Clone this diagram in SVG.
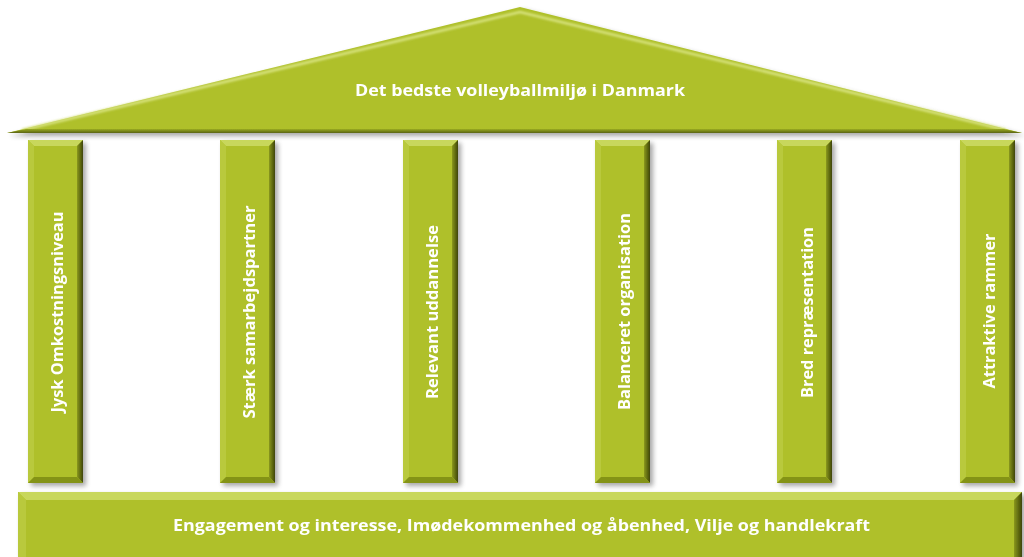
<svg xmlns="http://www.w3.org/2000/svg" xmlns:xlink="http://www.w3.org/1999/xlink" width="1024" height="557" viewBox="0 0 1024 557">
  <style>
    .lbl { font-family: "Open Sans", "Liberation Sans", Arial, sans-serif; font-weight: bold; font-size: 16.5px; fill: #ffffff; }
  </style>
  <defs>
    <filter id="shadow" x="-20%" y="-20%" width="140%" height="140%">
      <feGaussianBlur in="SourceAlpha" stdDeviation="2.5"/>
      <feOffset dx="3" dy="3" result="b"/>
      <feComponentTransfer><feFuncA type="linear" slope="0.35"/></feComponentTransfer>
      <feMerge><feMergeNode/><feMergeNode in="SourceGraphic"/></feMerge>
    </filter>
    <filter id="soft"><feGaussianBlur stdDeviation="0.8"/></filter>
    <linearGradient id="rightEdge" x1="0" y1="0" x2="1" y2="0">
      <stop offset="0" stop-color="#8a981c"/>
      <stop offset="1" stop-color="#3e4508"/>
    </linearGradient>
    <linearGradient id="roofBottom" x1="0" y1="0" x2="0" y2="1">
      <stop offset="0" stop-color="#9aab22"/>
      <stop offset="1" stop-color="#5a6410"/>
    </linearGradient>
    <g id="pillar">
      <rect x="0" y="0" width="55" height="343" fill="#afc02b"/>
      <polygon points="0,0 55,0 49,6 6,6" fill="#c8d75c"/>
      <polygon points="0,0 6,6 6,337 0,343" fill="#b9c93e"/>
      <polygon points="55,0 55,343 49,337 49,6" fill="url(#rightEdge)"/>
      <polygon points="0,343 55,343 49,337 6,337" fill="#849319"/>
    </g>
  </defs>

  <!-- Roof -->
  <g id="roof" filter="url(#shadow)">
    <polygon points="7,133 520,7 1022,133" fill="#afc02b"/>
    <polyline points="22,130 520,12 1006,130" fill="none" stroke="#d9e480" stroke-width="2.5" filter="url(#soft)"/>
    <polygon points="7,133 26,129 1004,129 1022,133" fill="url(#roofBottom)"/>
    <text class="lbl" x="520" y="96" text-anchor="middle" textLength="330" lengthAdjust="spacingAndGlyphs">Det bedste volleyballmiljø i Danmark</text>
  </g>

  <!-- Pillars -->
  <g id="pillar1" filter="url(#shadow)">
    <use xlink:href="#pillar" x="28" y="140"/>
    <text class="lbl" transform="translate(63,312) rotate(-90)" text-anchor="middle" textLength="201" lengthAdjust="spacingAndGlyphs">Jysk Omkostningsniveau</text>
  </g>
  <g id="pillar2" filter="url(#shadow)">
    <use xlink:href="#pillar" x="220" y="140"/>
    <text class="lbl" transform="translate(255,312) rotate(-90)" text-anchor="middle" textLength="213" lengthAdjust="spacingAndGlyphs">Stærk samarbejdspartner</text>
  </g>
  <g id="pillar3" filter="url(#shadow)">
    <use xlink:href="#pillar" x="403" y="140"/>
    <text class="lbl" transform="translate(438,312) rotate(-90)" text-anchor="middle" textLength="174" lengthAdjust="spacingAndGlyphs">Relevant uddannelse</text>
  </g>
  <g id="pillar4" filter="url(#shadow)">
    <use xlink:href="#pillar" x="595" y="140"/>
    <text class="lbl" transform="translate(630,311.5) rotate(-90)" text-anchor="middle" textLength="197" lengthAdjust="spacingAndGlyphs">Balanceret organisation</text>
  </g>
  <g id="pillar5" filter="url(#shadow)">
    <use xlink:href="#pillar" x="777" y="140"/>
    <text class="lbl" transform="translate(813,312.5) rotate(-90)" text-anchor="middle" textLength="171" lengthAdjust="spacingAndGlyphs">Bred repræsentation</text>
  </g>
  <g id="pillar6" filter="url(#shadow)">
    <use xlink:href="#pillar" x="960" y="140"/>
    <text class="lbl" transform="translate(995,311) rotate(-90)" text-anchor="middle" textLength="155" lengthAdjust="spacingAndGlyphs">Attraktive rammer</text>
  </g>

  <!-- Base -->
  <g id="base" filter="url(#shadow)">
    <rect x="18" y="492" width="1004" height="66" fill="#afc02b"/>
    <polygon points="18,492 1022,492 1014,500 26,500" fill="#c8d75c"/>
    <line x1="24" y1="494.5" x2="1016" y2="494.5" stroke="#dce68a" stroke-width="1.5" filter="url(#soft)"/>
    <polygon points="18,492 26,500 26,558 18,558" fill="#b9c93e"/>
    <polygon points="1022,492 1022,558 1014,558 1014,500" fill="url(#rightEdge)"/>
    <text class="lbl" x="521.5" y="531" text-anchor="middle" textLength="697" lengthAdjust="spacingAndGlyphs">Engagement og interesse, Imødekommenhed og åbenhed, Vilje og handlekraft</text>
  </g>

  <g id="connectors"/>
</svg>
